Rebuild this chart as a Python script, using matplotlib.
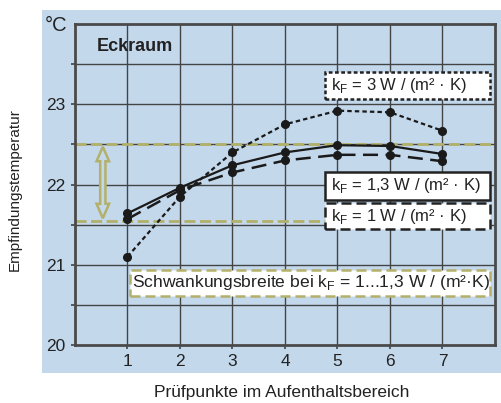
import matplotlib
matplotlib.use("Agg")
import matplotlib.pyplot as plt
from matplotlib.patches import Rectangle, Polygon

plt.rcParams['font.family'] = ['Liberation Sans', 'DejaVu Sans']

# data
punkte = [1, 2, 3, 4, 5, 6, 7]
kf_3 = [21.10, 21.85, 22.40, 22.75, 22.92, 22.90, 22.67]
kf_13 = [21.64, 21.96, 22.24, 22.40, 22.49, 22.48, 22.38]
kf_1 = [21.57, 21.93, 22.15, 22.30, 22.37, 22.37, 22.29]
band_lo, band_hi = 21.55, 22.5

blau = '#c4d8ec'
oliv = '#b3b06a'
gitter = '#444444'

fig = plt.figure(figsize=(5.02, 4.03), dpi=100)
fig.patches.append(Rectangle((0.0837, 0.0744), 1 - 0.0837, 0.975 - 0.0744,
                             transform=fig.transFigure, facecolor=blau,
                             edgecolor='none', zorder=-10))
ax = fig.add_axes([0.1494, 0.1439, 0.986 - 0.1494, 0.9404 - 0.1439])
ax.set_facecolor(blau)
ax.set_xlim(0, 8)
ax.set_ylim(20, 24)

# grid
for x in punkte:
    ax.axvline(x, color=gitter, lw=1.0, zorder=1)
for y in [20.5, 21, 21.5, 22, 22.5, 23, 23.5]:
    ax.axhline(y, color=gitter, lw=1.0, zorder=1)

# band of fluctuation
for y in (band_lo, band_hi):
    ax.axhline(y, color=oliv, lw=2.0, dashes=(4, 1.6), zorder=2)

# hollow double arrow
ax_x, sw, hw, hl = 0.53, 0.05, 0.12, 0.18
y0, y1 = band_lo + 0.03, band_hi - 0.03
arrow = [(ax_x, y1), (ax_x + hw, y1 - hl), (ax_x + sw, y1 - hl),
         (ax_x + sw, y0 + hl), (ax_x + hw, y0 + hl), (ax_x, y0),
         (ax_x - hw, y0 + hl), (ax_x - sw, y0 + hl), (ax_x - sw, y1 - hl),
         (ax_x - hw, y1 - hl)]
ax.add_patch(Polygon(arrow, closed=True, facecolor=blau, edgecolor=oliv,
                     lw=1.8, zorder=3))

ax.plot(punkte, kf_3, color='#1a1a1a', lw=1.6, dashes=(2, 1.4),
        marker='o', ms=5.5, zorder=4)
ax.plot(punkte, kf_13, color='#1a1a1a', lw=1.6, marker='o', ms=5.5, zorder=4)
ax.plot(punkte, kf_1, color='#1a1a1a', lw=1.8, dashes=(6, 3),
        marker='o', ms=5.5, zorder=4)

# label boxes
def box(x0, x1, y0, y1, text, ls, ec, tx, fs=12):
    ax.add_patch(Rectangle((x0, y0), x1 - x0, y1 - y0, facecolor='white',
                           edgecolor=ec, lw=1.8, linestyle=ls, zorder=5,
                           clip_on=False))
    ax.text(tx, (y0 + y1) / 2, text, fontsize=fs, ha='left', va='center',
            color='#222222', zorder=6)

box(4.77, 7.90, 23.06, 23.40, r'k$_\mathregular{F}$ = 3 W / (m² · K)',
    (0, (1.5, 1)), '#222222', 4.88)
box(4.77, 7.90, 21.81, 22.16, r'k$_\mathregular{F}$ = 1,3 W / (m² · K)',
    '-', '#222222', 4.88)
box(4.77, 7.90, 21.44, 21.775, r'k$_\mathregular{F}$ = 1 W / (m² · K)',
    (0, (4, 2)), '#222222', 4.88)
box(1.05, 7.90, 20.61, 20.94,
    r'Schwankungsbreite bei k$_\mathregular{F}$ = 1...1,3 W / (m²·K)',
    (0, (4, 2)), oliv, 1.08, fs=12.6)

ax.text(0.42, 23.72, 'Eckraum', fontsize=13, fontweight='bold',
        ha='left', va='center', color='#222222')

# axes
ax.set_xticks(punkte)
ax.set_yticks([20, 21, 22, 23])
ax.set_yticks([20.5, 21.5, 22.5, 23.5], minor=True)
ax.tick_params(axis='both', which='both', direction='out', length=3,
               width=1.2, color=gitter, labelsize=12.5, labelcolor='#222222')
ax.tick_params(axis='y', pad=4)
for s in ax.spines.values():
    s.set_color('#4a4a4a')
    s.set_linewidth(2.0)
    s.set_zorder(7)

fig.text(0.089, 0.937, '°C', fontsize=14.5, ha='left', va='center',
         color='#222222')
fig.text(0.03, 0.53, 'Empfindungstemperatur', fontsize=11, rotation=90,
         ha='center', va='center', color='#222222',
         family=['Liberation Sans Narrow', 'Liberation Sans'])
fig.text(0.562, 0.027, 'Prüfpunkte im Aufenthaltsbereich', fontsize=12.5,
         ha='center', va='center', color='#222222')

fig.savefig('out.png', dpi=100)
